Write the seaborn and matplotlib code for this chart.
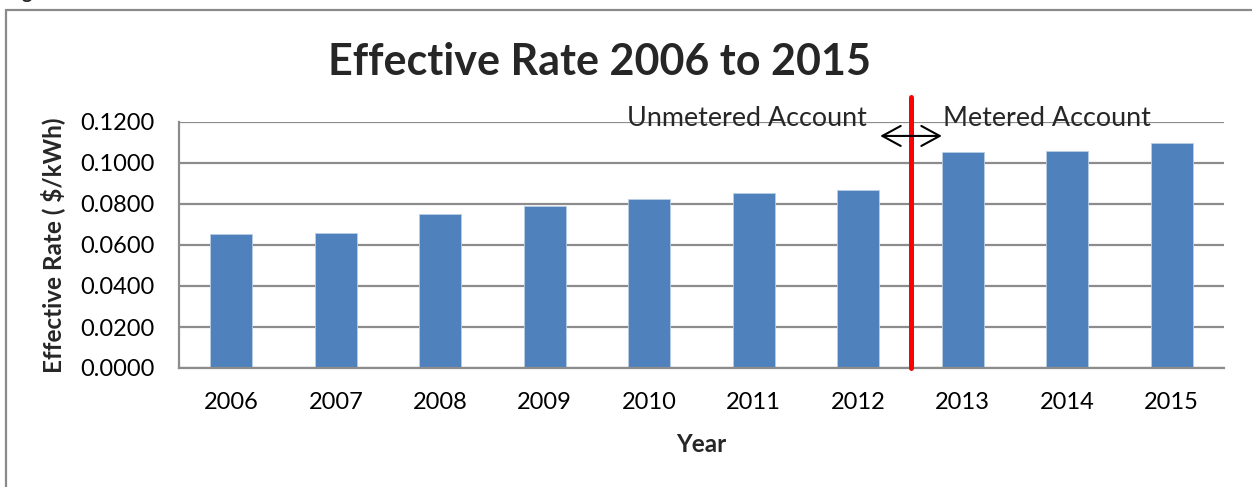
import matplotlib
matplotlib.use("Agg")
import matplotlib.pyplot as plt
from matplotlib.lines import Line2D
from matplotlib.ticker import FuncFormatter, FixedLocator
import numpy as np
import pandas as pd
import seaborn as sns

# Effective electricity rate per year ($/kWh)
years = ["2006", "2007", "2008", "2009", "2010", "2011", "2012", "2013", "2014", "2015"]
rates = [0.0652, 0.0660, 0.0750, 0.0792, 0.0824, 0.0855, 0.0870, 0.1052, 0.1060, 0.1099]
y_ticks = [0.00, 0.02, 0.04, 0.06, 0.08, 0.10, 0.12]

title = "Effective Rate 2006 to 2015"
left_note = "Unmetered Account"
right_note = "Metered Account"

sns.set_theme(style="white")
plt.rcParams["font.family"] = ["Lato", "DejaVu Sans"]

W, H = 1252, 487
fig = plt.figure(figsize=(W / 100, H / 100), dpi=100)
fig.patch.set_facecolor("white")

ax_left, ax_right, ax_top, ax_bottom = 179, 1224, 122, 368
ax = fig.add_axes([ax_left / W, 1 - ax_bottom / H,
                   (ax_right - ax_left) / W, (ax_bottom - ax_top) / H])

df = pd.DataFrame({"Year": years, "Rate": rates})
sns.barplot(data=df, x="Year", y="Rate", color="#4F81BD", saturation=1,
            width=0.4, edgecolor="#B9CDE5", linewidth=0.6, ax=ax, zorder=2)

grey = "#8c8c8c"
ax.set_xlim(-0.5, len(years) - 0.5)
ax.set_ylim(0, 0.12)
ax.yaxis.set_major_locator(FixedLocator(y_ticks))
ax.yaxis.set_major_formatter(FuncFormatter(lambda v, _: f"{v:.4f}"))
ax.yaxis.grid(True, color=grey, linewidth=1.6)
ax.xaxis.grid(False)
ax.set_axisbelow(True)

for side in ("top", "right"):
    ax.spines[side].set_visible(False)
for side in ("left", "bottom"):
    ax.spines[side].set_color(grey)
    ax.spines[side].set_linewidth(1.6)

# category boundaries carry the tick marks, labels sit between them
ax.set_xticks(np.arange(-0.5, len(years), 1.0), minor=True)
ax.tick_params(axis="x", which="minor", length=6, width=1.4, color=grey, direction="out")
ax.tick_params(axis="x", which="major", length=0, pad=17.5, labelsize=17, labelcolor="black")
ax.tick_params(axis="y", which="major", length=6.5, width=1.4, color=grey,
               direction="out", pad=11, labelsize=17, labelcolor="black")

ax.set_xlabel("Year", fontsize=17.5, fontweight="bold", labelpad=14)
ax.set_ylabel("Effective Rate ( $/kWh)", fontsize=17.5, fontweight="bold", labelpad=11)

# divider between unmetered and metered years
ax.plot([6.5, 6.5], [0, 0.1322], color="#ff0000", linewidth=3.6, clip_on=False, zorder=4)
ax.annotate("", xy=(6.21, 0.1132), xytext=(6.80, 0.1132),
            arrowprops=dict(arrowstyle="<->,head_length=1.1,head_width=0.6",
                            color="black", linewidth=1.5, shrinkA=0, shrinkB=0),
            annotation_clip=False, zorder=5)
ax.text(3.787, 0.1215, left_note, fontsize=19.4, ha="left", va="center", zorder=5)
ax.text(6.811, 0.1215, right_note, fontsize=19.4, ha="left", va="center", zorder=5)

fig.text(600 / W, 1 - 62 / H, title, fontsize=31, fontweight="bold",
         ha="center", va="center")

# caption line above the framed chart, mostly outside the canvas
fig.text(6 / W, 1 + 1 / H, "Figure", fontsize=14, fontweight="bold",
         ha="left", va="baseline")

# chart frame
frame_kw = dict(color="#8a8a8a", linewidth=1.6, transform=fig.transFigure)
fig.add_artist(Line2D([6 / W, 1.0], [1 - 10 / H, 1 - 10 / H], **frame_kw))
fig.add_artist(Line2D([6 / W, 6 / W], [1 - 10 / H, 0.0], **frame_kw))

fig.savefig("out.png", dpi=100)
